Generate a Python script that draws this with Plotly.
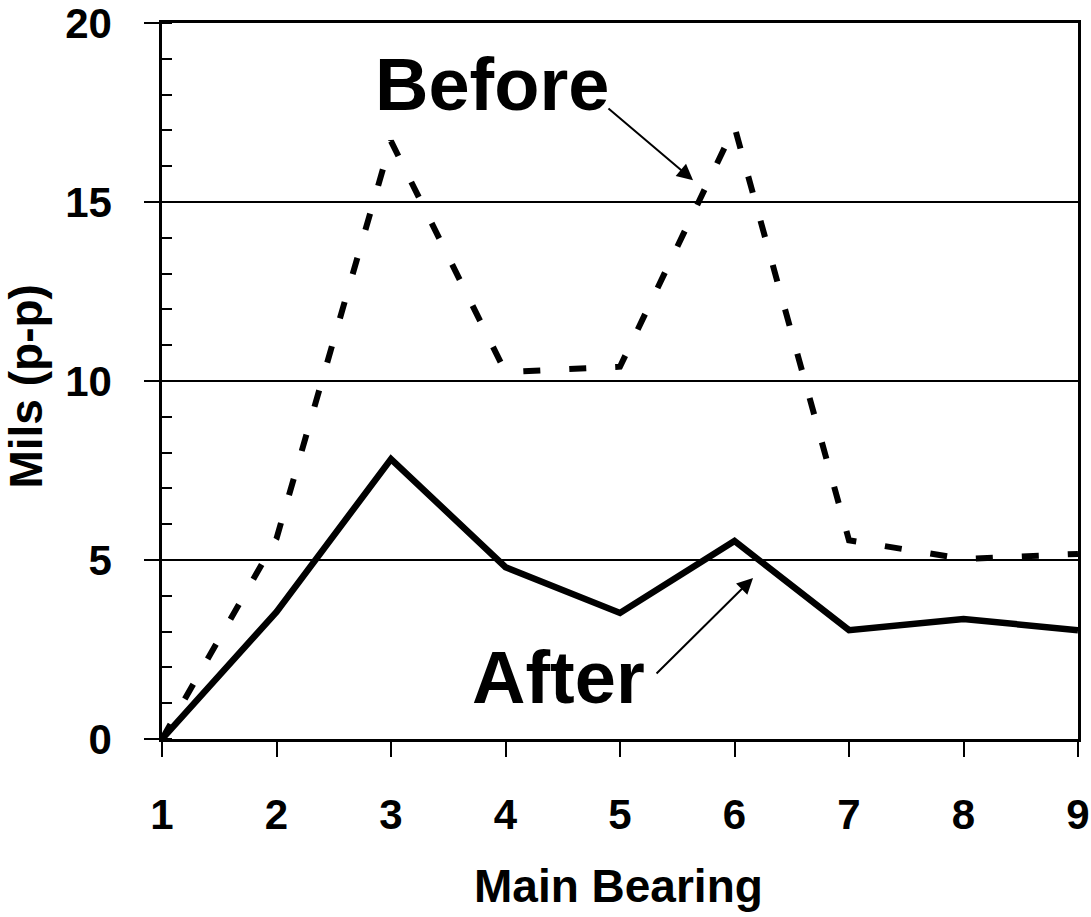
import plotly.graph_objects as go

bearings = [1, 2, 3, 4, 5, 6, 7, 8, 9]
before = [0.0, 5.6, 16.7, 10.25, 10.4, 17.1, 5.55, 5.03, 5.17]
after = [0.0, 3.55, 7.82, 4.8, 3.52, 5.53, 3.04, 3.35, 3.04]
y_ticks = [0, 5, 10, 15, 20]
x_ticks = [1, 2, 3, 4, 5, 6, 7, 8, 9]

FONT = "Liberation Sans, Arial, Helvetica, sans-serif"

fig = go.Figure()
fig.add_trace(go.Scatter(x=bearings, y=before, mode="lines", name="Before",
                         line=dict(color="black", width=6, dash="17px,29px"),
                         cliponaxis=False))
fig.add_trace(go.Scatter(x=bearings, y=after, mode="lines", name="After",
                         line=dict(color="black", width=6.5),
                         cliponaxis=False))

# Labels
fig.add_annotation(x=3.88, y=18.27, xref="x", yref="y", text="Before", showarrow=False,
                   font=dict(family=FONT, size=74, color="black", weight="bold"),
                   xanchor="center", yanchor="middle")
fig.add_annotation(x=4.46, y=1.73, xref="x", yref="y", text="After", showarrow=False,
                   font=dict(family=FONT, size=74, color="black", weight="bold"),
                   xanchor="center", yanchor="middle")
# Arrows
fig.add_annotation(x=5.638, y=15.61, ax=4.886, ay=17.65, xref="x", yref="y",
                   axref="x", ayref="y", text="", showarrow=True,
                   arrowhead=2, arrowsize=1.6, arrowwidth=2, arrowcolor="black")
fig.add_annotation(x=6.162, y=4.50, ax=5.306, ay=1.79, xref="x", yref="y",
                   axref="x", ayref="y", text="", showarrow=True,
                   arrowhead=2, arrowsize=1.6, arrowwidth=2, arrowcolor="black")

# Axis titles
fig.add_annotation(x=0.498, y=-0.206, xref="paper", yref="paper", text="Main Bearing",
                   showarrow=False, xanchor="center", yanchor="middle",
                   font=dict(family=FONT, size=46, color="black", weight="bold"))
fig.add_annotation(x=-0.149, y=0.4916, xref="paper", yref="paper", text="Mils (p-p)",
                   showarrow=False, xanchor="center", yanchor="middle", textangle=-90,
                   font=dict(family=FONT, size=46, color="black", weight="bold"))

fig.update_layout(
    width=1091, height=917,
    margin=dict(l=162, r=13, t=23, b=178, autoexpand=False),
    paper_bgcolor="white", plot_bgcolor="white",
    showlegend=False,
    font=dict(family=FONT, color="black"),
)
fig.update_xaxes(
    range=[1, 9], tickvals=x_ticks, ticktext=[str(v) for v in x_ticks],
    showgrid=False, zeroline=False, automargin=False,
    showline=True, linecolor="black", linewidth=2.5, mirror=True,
    ticks="outside", ticklen=15, tickwidth=2, tickcolor="black",
    tickfont=dict(family=FONT, size=42, color="black", weight="bold"),
    ticklabelstandoff=22, ticklabeloverflow="allow",
)
fig.update_yaxes(
    range=[0, 20.0001], tickvals=y_ticks, ticktext=[str(v) for v in y_ticks],
    showgrid=True, gridcolor="black", gridwidth=2,
    zeroline=False, automargin=False,
    showline=True, linecolor="black", linewidth=2.5, mirror=True,
    ticks="outside", ticklen=15, tickwidth=2, tickcolor="black",
    minor=dict(dtick=1, ticks="inside", ticklen=10, tickwidth=2, tickcolor="black", showgrid=False),
    tickfont=dict(family=FONT, size=42, color="black", weight="bold"),
    ticklabelstandoff=24, ticklabeloverflow="allow",
)

fig.write_html("out.html")
